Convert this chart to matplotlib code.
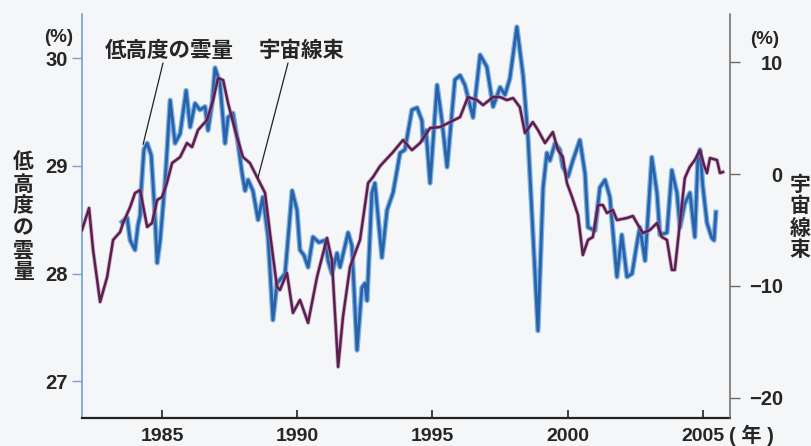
import matplotlib
matplotlib.use("Agg")
import matplotlib.pyplot as plt

# Low-altitude cloud amount (%), left axis
cloud_year = [1983.52, 1983.71, 1983.82, 1984.00, 1984.11, 1984.19, 1984.22, 1984.33, 1984.45,
              1984.60, 1984.72, 1984.82, 1984.93, 1985.00, 1985.11, 1985.30, 1985.48, 1985.67,
              1985.89, 1986.04, 1986.22, 1986.40, 1986.59, 1986.70, 1986.85, 1986.96, 1987.14,
              1987.33, 1987.44, 1987.62, 1987.81, 1987.96, 1988.07, 1988.18, 1988.36, 1988.55,
              1988.73, 1988.92, 1989.10, 1989.25, 1989.55, 1989.81, 1989.99, 1990.10, 1990.25,
              1990.40, 1990.58, 1990.80, 1991.03, 1991.14, 1991.28, 1991.47, 1991.58, 1991.88,
              1992.02, 1992.21, 1992.39, 1992.50, 1992.58, 1992.76, 1992.87, 1993.13, 1993.32,
              1993.54, 1993.69, 1993.80, 1993.98, 1994.24, 1994.43, 1994.61, 1994.65, 1994.76,
              1994.91, 1995.17, 1995.35, 1995.54, 1995.83, 1996.02, 1996.20, 1996.50, 1996.76,
              1997.01, 1997.24, 1997.50, 1997.68, 1997.86, 1998.12, 1998.35, 1998.53, 1998.90,
              1999.09, 1999.23, 1999.34, 1999.53, 1999.71, 1999.82, 2000.01, 2000.19, 2000.45,
              2000.64, 2000.75, 2001.01, 2001.19, 2001.38, 2001.56, 2001.82, 2002.00, 2002.19,
              2002.38, 2002.56, 2002.67, 2002.86, 2003.11, 2003.30, 2003.41, 2003.67, 2003.85,
              2004.04, 2004.15, 2004.33, 2004.52, 2004.70, 2004.81, 2004.89, 2005.00, 2005.15,
              2005.33, 2005.41, 2005.48]
cloud_pct = [28.48, 28.52, 28.31, 28.22, 28.45, 28.54, 28.75, 29.15, 29.21,
             29.10, 28.62, 28.10, 28.31, 28.52, 28.84, 29.61, 29.21, 29.30,
             29.70, 29.36, 29.58, 29.52, 29.55, 29.33, 29.58, 29.91, 29.77,
             29.21, 29.45, 29.49, 29.21, 28.93, 28.77, 28.87, 28.77, 28.50,
             28.71, 28.34, 27.57, 27.91, 28.00, 28.77, 28.59, 28.22, 28.17,
             28.06, 28.34, 28.29, 28.31, 28.12, 28.00, 28.19, 28.06, 28.38,
             28.26, 27.29, 27.87, 27.91, 27.75, 28.75, 28.84, 28.15, 28.59,
             28.75, 28.96, 29.12, 29.15, 29.52, 29.54, 29.42, 29.24, 29.33,
             28.84, 29.75, 29.42, 28.99, 29.80, 29.84, 29.75, 29.45, 30.03,
             29.92, 29.55, 29.73, 29.66, 29.81, 30.29, 29.84, 29.27, 27.47,
             28.80, 29.12, 29.05, 29.21, 29.15, 28.99, 28.90, 29.05, 29.24,
             28.93, 28.43, 28.40, 28.80, 28.87, 28.71, 27.97, 28.36, 27.97,
             28.00, 28.28, 28.43, 28.12, 29.08, 28.75, 28.36, 28.38, 28.96,
             28.75, 28.43, 28.65, 28.75, 28.34, 29.05, 29.15, 28.80, 28.47,
             28.33, 28.31, 28.57]

# Cosmic-ray flux variation (%), right axis
cr_year = [1982.04, 1982.30, 1982.45, 1982.71, 1982.97, 1983.19, 1983.45, 1983.56, 1983.82,
           1984.00, 1984.19, 1984.45, 1984.63, 1984.82, 1985.00, 1985.18, 1985.37, 1985.67,
           1985.92, 1986.11, 1986.33, 1986.66, 1986.89, 1987.07, 1987.26, 1987.44, 1987.70,
           1987.99, 1988.25, 1988.51, 1988.81, 1988.99, 1989.25, 1989.36, 1989.62, 1989.84,
           1990.10, 1990.40, 1990.73, 1991.10, 1991.28, 1991.51, 1991.69, 1991.95, 1992.32,
           1992.62, 1992.80, 1993.06, 1993.54, 1993.91, 1994.24, 1994.54, 1994.91, 1995.28,
           1995.65, 1996.02, 1996.31, 1996.65, 1996.87, 1997.24, 1997.50, 1997.75, 1997.98,
           1998.23, 1998.42, 1998.71, 1998.90, 1999.16, 1999.45, 1999.64, 1999.82, 1999.97,
           2000.16, 2000.38, 2000.56, 2000.75, 2000.93, 2001.12, 2001.30, 2001.45, 2001.67,
           2001.82, 2002.19, 2002.41, 2002.60, 2002.78, 2003.04, 2003.30, 2003.48, 2003.67,
           2003.85, 2003.96, 2004.14, 2004.33, 2004.51, 2004.70, 2004.89, 2005.04, 2005.15,
           2005.26, 2005.52, 2005.63, 2005.74]
cr_pct = [-5.00, -3.04, -6.79, -11.43, -9.20, -5.89, -5.18, -4.38, -2.95,
          -1.70, -1.43, -4.73, -4.38, -2.32, -2.05, -0.80, 0.98, 1.52,
          2.77, 2.41, 3.93, 4.82, 6.61, 8.57, 8.39, 6.34, 3.93,
          1.52, 0.98, -0.27, -1.70, -5.27, -10.09, -10.36, -8.84, -12.41,
          -11.25, -13.30, -9.20, -5.71, -7.68, -17.23, -12.77, -8.30, -5.89,
          -0.80, -0.27, 0.71, 1.96, 3.04, 2.14, 2.77, 4.11, 4.20,
          4.64, 5.09, 6.88, 6.61, 6.16, 6.88, 6.88, 6.61, 6.79,
          5.98, 3.66, 4.64, 3.93, 2.77, 3.75, 2.14, 1.52, -0.80,
          -2.05, -3.66, -7.23, -5.89, -5.63, -2.77, -2.77, -3.48, -3.21,
          -4.11, -3.93, -3.75, -4.55, -5.27, -5.00, -4.38, -5.63, -5.89,
          -8.57, -8.57, -4.55, -0.36, 0.63, 1.25, 2.14, 0.80, 0.09,
          1.43, 1.25, 0.09, 0.18]

x_ticks = [1985, 1990, 1995, 2000, 2005]
left_ticks = [27, 28, 29, 30]
right_ticks = [-20, -10, 0, 10]

BG = "#f5f6f8"
INK = "#262626"
CJK = "Noto Sans CJK JP"
NUM = "Liberation Sans"
plt.rcParams["font.family"] = [NUM, CJK, "DejaVu Sans"]

fig = plt.figure(figsize=(8.11, 4.46), dpi=100, facecolor=BG)
ax = fig.add_axes([0.1011, 0.0628, 0.7990, 0.9058])
ax.set_facecolor(BG)
ax2 = ax.twinx()

# cloud amount: soft light-blue halo under a darker core
ax.plot(cloud_year, cloud_pct, color="#7db2e2", lw=3.8, solid_joinstyle="round", zorder=2)
ax.plot(cloud_year, cloud_pct, color="#2a62aa", lw=2.0, solid_joinstyle="round", zorder=3)
# cosmic rays
ax2.plot(cr_year, cr_pct, color="#b27fa8", lw=3.0, alpha=0.55, solid_joinstyle="round")
ax2.plot(cr_year, cr_pct, color="#5a1f4e", lw=1.8, solid_joinstyle="round")

ax.set_xlim(1982.04, 2006.0)
ax.set_ylim(26.66, 30.41)
ax2.set_ylim(-21.8, 14.3)

for a in (ax, ax2):
    a.spines["top"].set_visible(False)
ax.spines["right"].set_visible(False)
ax2.spines["left"].set_visible(False)
ax2.spines["bottom"].set_visible(False)
ax.spines["left"].set_color("#6f9fd2")
ax.spines["left"].set_linewidth(1.2)
ax.spines["bottom"].set_color("#222222")
ax.spines["bottom"].set_linewidth(1.6)
ax2.spines["right"].set_color("#6a6a6a")
ax2.spines["right"].set_linewidth(1.1)

ax.set_xticks(x_ticks)
ax.set_xticklabels([str(v) for v in x_ticks])
ax.set_yticks(left_ticks)
ax.set_yticklabels([str(v) for v in left_ticks])
ax2.set_yticks(right_ticks)
ax2.set_yticklabels([str(v).replace("-", "\u2212") for v in right_ticks])

ax.tick_params(axis="x", direction="in", length=6, width=1.2, color="#222222",
               pad=7, labelsize=14, labelcolor=INK)
ax.tick_params(axis="y", direction="out", length=7, width=1.0, color="#7d9fc8",
               pad=3, labelsize=14.5, labelcolor=INK)
ax2.tick_params(axis="y", direction="out", length=7, width=1.0, color="#6a6a6a",
                pad=31, labelsize=14.5, labelcolor=INK)
for lbl in ax.get_xticklabels() + ax.get_yticklabels() + ax2.get_yticklabels():
    lbl.set_fontweight("bold")
for lbl in ax2.get_yticklabels():
    lbl.set_horizontalalignment("right")

W, H = 811, 446


def fx(px):
    return px / W


def fy(py):
    return 1 - py / H


# unit markers
fig.text(fx(59), fy(38), "(%)", ha="center", va="center", fontsize=13.5,
         fontweight="bold", color=INK)
fig.text(fx(765), fy(39), "(%)", ha="center", va="center", fontsize=13.5,
         fontweight="bold", color=INK)
fig.text(fx(729), fy(435), "( 年 )", ha="left", va="center", fontsize=14.5,
         fontweight="bold", color=INK)

# vertical axis titles, one character per line
for i, ch in enumerate("低高度の雲量"):
    fig.text(fx(23), fy(162 + 22 * i), ch, ha="center", va="center", fontsize=15,
             fontweight="bold", family=CJK, color=INK)
for i, ch in enumerate("宇宙線束"):
    fig.text(fx(800), fy(184 + 22 * i), ch, ha="center", va="center", fontsize=15,
             fontweight="bold", family=CJK, color=INK)

# series labels with leader lines
fig.text(fx(169), fy(50), "低高度の雲量", ha="center", va="center", fontsize=15.5,
         fontweight="bold", family=CJK, color=INK)
fig.text(fx(302), fy(50), "宇宙線束", ha="center", va="center", fontsize=15.5,
         fontweight="bold", family=CJK, color=INK)
ax.annotate("", xy=(1984.3, 29.2), xycoords="data",
            xytext=(fx(163), fy(63)), textcoords="figure fraction",
            arrowprops=dict(arrowstyle="-", lw=0.9, color="#222222",
                            shrinkA=0, shrinkB=0))
ax2.annotate("", xy=(1988.55, -0.3), xycoords="data",
             xytext=(fx(288), fy(63)), textcoords="figure fraction",
             arrowprops=dict(arrowstyle="-", lw=0.9, color="#222222",
                             shrinkA=0, shrinkB=0))

fig.savefig("out.png", dpi=100, facecolor=BG)
